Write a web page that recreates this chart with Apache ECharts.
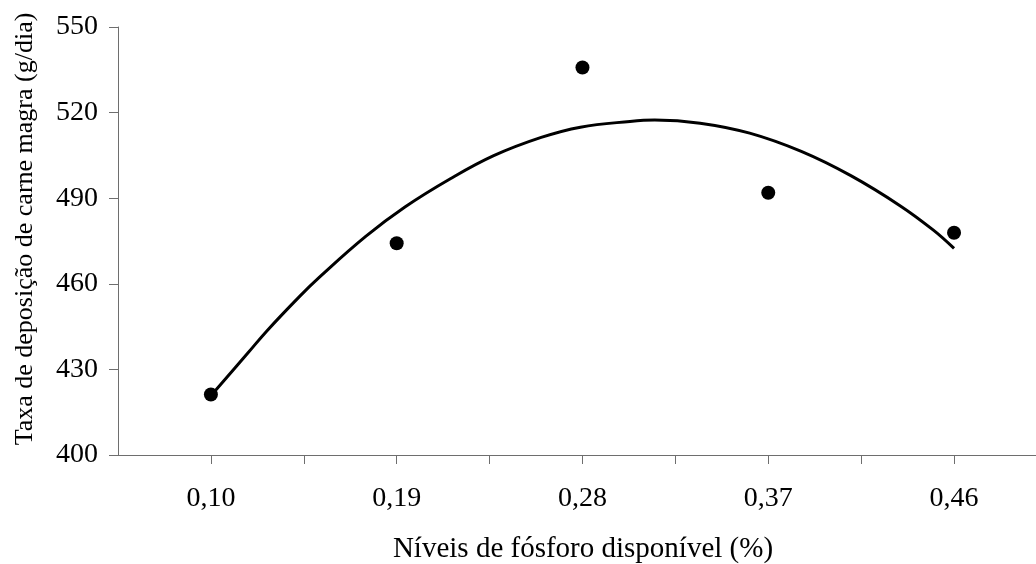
<!DOCTYPE html>
<html>
<head>
<meta charset="utf-8">
<script src="https://cdn.jsdelivr.net/npm/echarts@6/dist/echarts.min.js"></script>
<style>
  html, body { margin: 0; padding: 0; background: #fff; }
  #chart { width: 1036px; height: 564px; }
</style>
</head>
<body>
<div id="chart"></div>
<script>
// observed points
const levels = [0.10, 0.19, 0.28, 0.37, 0.46];
const observed = [421.2, 474.2, 535.8, 491.9, 477.9];

// fitted curve
const curveX = [0.100, 0.118, 0.127, 0.143, 0.153, 0.175, 0.194, 0.216, 0.237, 0.260,
                0.279, 0.303, 0.315, 0.337, 0.361, 0.386, 0.410, 0.434, 0.450, 0.460];
const curveY = [420.8, 435.8, 443.4, 455.6, 462.6, 476.6, 486.9, 496.8, 504.9, 511.3,
                514.9, 516.9, 517.4, 516.3, 512.8, 506.4, 497.9, 487.3, 478.8, 472.4];

const xTickLabels = ['0,10', '0,19', '0,28', '0,37', '0,46'];
const yMin = 400, yMax = 550, yStep = 30;

const chart = echarts.init(document.getElementById('chart'));

const font = '"Liberation Serif", "Times New Roman", serif';
const axisGray = '#6e6e6e';

chart.setOption({
  animation: false,
  backgroundColor: '#fff',
  grid: { left: 118, right: 0, top: 27, bottom: 109, outerBoundsMode: 'none', containLabel: false },
  xAxis: {
    type: 'value',
    min: 0.055,
    max: 0.4997,
    interval: 0.045,
    splitLine: { show: false },
    axisLine: { lineStyle: { color: axisGray, width: 1 } },
    axisTick: { inside: false, length: 9, lineStyle: { color: axisGray } },
    axisLabel: {
      showMinLabel: false,
      showMaxLabel: false,
      margin: 30,
      color: '#000',
      fontFamily: font,
      fontSize: 28,
      formatter: function (v) {
        for (let i = 0; i < levels.length; i++) {
          if (Math.abs(v - levels[i]) < 0.005) return xTickLabels[i];
        }
        return '';
      }
    },
    name: 'Níveis de fósforo disponível (%)',
    nameLocation: 'middle',
    nameGap: 80,
    nameTextStyle: { color: '#000', fontFamily: font, fontSize: 29, padding: [0, 0, 0, 12] }
  },
  yAxis: {
    type: 'value',
    min: yMin,
    max: yMax,
    interval: yStep,
    splitLine: { show: false },
    axisLine: { show: true, lineStyle: { color: axisGray, width: 1 } },
    axisTick: { show: true, inside: false, length: 9, lineStyle: { color: axisGray } },
    axisLabel: {
      margin: 20,
      color: '#000',
      fontFamily: font,
      fontSize: 28
    }
  },
  graphic: [{
    type: 'text',
    x: 25,
    y: 229,
    rotation: Math.PI / 2,
    style: {
      text: 'Taxa de deposição de carne magra (g/dia)',
      fill: '#000',
      font: '26px ' + font,
      align: 'center',
      verticalAlign: 'middle'
    }
  }],
  series: [
    {
      type: 'line',
      data: curveX.map((x, i) => [x, curveY[i]]),
      smooth: 0.4,
      showSymbol: false,
      lineStyle: { color: '#000', width: 3 },
      z: 2
    },
    {
      type: 'scatter',
      data: levels.map((x, i) => [x, observed[i]]),
      symbol: 'circle',
      symbolSize: 14,
      itemStyle: { color: '#000', opacity: 1 },
      z: 3
    }
  ]
});
</script>
</body>
</html>
